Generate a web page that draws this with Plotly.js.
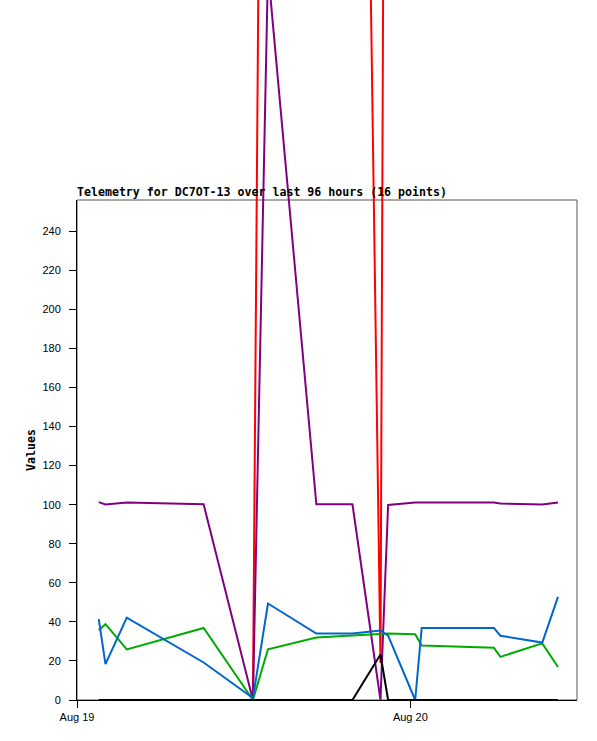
<!DOCTYPE html>
<html>
<head>
<meta charset="utf-8">
<script src="https://cdn.plot.ly/plotly-3.0.1.min.js"></script>
<style>html,body{margin:0;padding:0;background:#fff;}#chart{width:597px;height:741px;}</style>
</head>
<body>
<div id="chart"></div>
<script>
// ---- data ----
const times = [
  '2024-08-19 01:34', '2024-08-19 02:03', '2024-08-19 03:35', '2024-08-19 09:07',
  '2024-08-19 12:40', '2024-08-19 13:45', '2024-08-19 17:14', '2024-08-19 19:50',
  '2024-08-19 21:51', '2024-08-19 22:24', '2024-08-20 00:21', '2024-08-20 00:49',
  '2024-08-20 06:01', '2024-08-20 06:29', '2024-08-20 09:30', '2024-08-20 10:38'
];
const redValues    = [0, 0, 0, 0, 0, 1013, 1013, 1013, 19, 1013, 1013, 1013, 1013, 1013, 1013, 1013];
const purpleValues = [101.3, 100.1, 101.1, 100.2, 0, 374, 100.2, 100.2, 0, 99.9, 101.1, 101.1, 101.1, 100.6, 100.1, 101.1];
const greenValues  = [35.7, 38.8, 25.9, 36.9, 0, 26, 32, 33, 34, 34, 33.7, 27.9, 26.7, 22.1, 29, 16.9];
const blueValues   = [41.4, 18.4, 42.2, 19.2, 1, 49.4, 34, 34, 35.6, 33, 0, 36.9, 36.9, 32.9, 29.4, 52.8];
const blackValues  = [0, 0, 0, 0, 0, 0, 0, 0, 23.3, 0, 0, 0, 0, 0, 0, 0];
const titleText = 'Telemetry for DC7OT-13 over last 96 hours (16 points)';
const yTitle = 'Values';
const xRange = ['2024-08-19 00:00', '2024-08-20 12:00'];
const yMax = 256;

// ---- layout helpers ----
const areaH = 710;      // px height of drawing area (figure height minus bottom margin)
const boxBottom = 10;   // px from drawing-area bottom to the framed box bottom
const boxH = 500;       // px height of the framed, visible axis area
const pxPerUnit = boxH / yMax;
const yDom = [boxBottom / areaH, (boxBottom + boxH) / areaH];
const y2Range = [-boxBottom / pxPerUnit, (areaH - boxBottom) / pxPerUnit];

const series = [
  {y: redValues, color: '#ff0000'},
  {y: purpleValues, color: '#800080'},
  {y: greenValues, color: '#00aa00'},
  {y: blueValues, color: '#0066cc'},
  {y: blackValues, color: '#000000'}
];
const traces = [{
  type: 'scatter', mode: 'lines', x: [], y: [], xaxis: 'x', yaxis: 'y',
  hoverinfo: 'skip', showlegend: false
}].concat(series.map(s => ({
  type: 'scatter', mode: 'lines', x: times, y: s.y,
  xaxis: 'x', yaxis: 'y2',
  line: {color: s.color, width: 2},
  hoverinfo: 'skip', showlegend: false
})));

const monoBold = {family: 'DejaVu Sans Mono', size: 11.6, color: '#000', weight: 'bold'};
const tickFont = {family: 'Liberation Sans, Arial, sans-serif', size: 11, color: '#000'};

const layout = {
  width: 597, height: 741,
  margin: {l: 77, r: 20, t: 0, b: 31, pad: 0},
  paper_bgcolor: '#ffffff',
  plot_bgcolor: 'rgba(0,0,0,0)',
  showlegend: false,
  title: {
    text: titleText, font: monoBold,
    xref: 'paper', x: 0, xanchor: 'left',
    yref: 'paper', y: (areaH - 196) / areaH, yanchor: 'bottom',
    pad: {t: 0, b: 0, l: 0, r: 0}
  },
  xaxis: {
    type: 'date', range: xRange, domain: [0, 1], anchor: 'y',
    tick0: '2024-08-19', dtick: 86400000, tickformat: '%b %d',
    ticks: 'outside', ticklen: 7, tickwidth: 1, tickcolor: '#000',
    showgrid: false, zeroline: false,
    showline: true, linecolor: '#000', linewidth: 1,
    tickfont: tickFont, fixedrange: true
  },
  yaxis: {
    domain: yDom, range: [0, yMax], anchor: 'x',
    tick0: 0, dtick: 20,
    ticks: 'outside', ticklen: 7, tickwidth: 1, tickcolor: '#000',
    ticklabelstandoff: 6,
    showgrid: false, zeroline: false,
    showline: true, linecolor: '#000', linewidth: 1,
    tickfont: tickFont, automargin: false, fixedrange: true,
    title: {text: yTitle, font: monoBold, standoff: 4}
  },
  yaxis2: {
    domain: [0, 1], range: y2Range, anchor: 'free', position: 0,
    visible: false, fixedrange: true
  },
  shapes: [{
    type: 'rect', xref: 'paper', yref: 'paper',
    x0: 0, x1: 1, y0: yDom[0], y1: yDom[1],
    line: {color: '#555555', width: 1}, layer: 'below'
  }]
};

Plotly.newPlot('chart', traces, layout, {staticPlot: true, displayModeBar: false});
</script>
</body>
</html>
